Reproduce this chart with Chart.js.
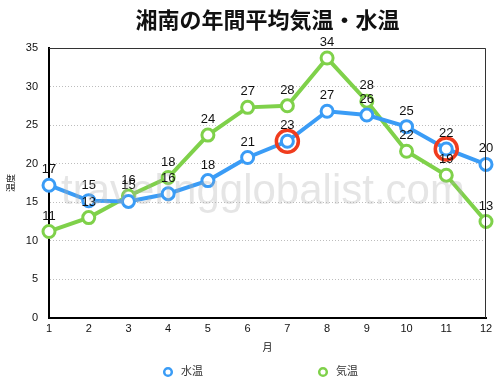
<!DOCTYPE html>
<html><head><meta charset="utf-8">
<script src="https://cdn.jsdelivr.net/npm/chart.js@4"></script>
<style>html,body{margin:0;padding:0;background:#fff}#wrap{width:504px;height:384px}</style>
</head><body><div id="wrap"><canvas id="c" width="504" height="384"></canvas></div>
<script>
const months = ['1','2','3','4','5','6','7','8','9','10','11','12'];
const waterTemp = [17.2, 15.2, 15.1, 16.1, 17.8, 20.8, 22.9, 26.8, 26.3, 24.8, 21.9, 19.9];
const airTemp = [11.2, 13.0, 15.8, 18.2, 23.7, 27.3, 27.5, 33.7, 28.1, 21.6, 18.5, 12.5];
const highlightMonths = ['7', '11'];
const titleText = '湘南の年間平均気温・水温';
const watermark = 'travelingglobalist.com';
const FONT = "Helvetica, 'Liberation Sans', Arial, 'Noto Sans CJK JP', sans-serif";

const highlight = months.map((m, i) => highlightMonths.includes(m) ? waterTemp[i] : null);

const decorPlugin = {
  id: 'decor',
  afterDatasetsDraw(chart) {
    const {ctx, chartArea: a} = chart;
    ctx.save();
    // top/right frame
    ctx.strokeStyle = '#333';
    ctx.lineWidth = 1;
    ctx.beginPath();
    ctx.moveTo(a.left, a.top + 0.5);
    ctx.lineTo(a.right - 0.5, a.top + 0.5);
    ctx.lineTo(a.right - 0.5, a.bottom);
    ctx.stroke();
    // data labels
    ctx.font = '13px ' + FONT;
    ctx.fillStyle = '#111';
    ctx.textAlign = 'center';
    ctx.textBaseline = 'bottom';
    [1, 0].forEach(di => {
      const meta = chart.getDatasetMeta(di);
      const data = chart.data.datasets[di].data;
      meta.data.forEach((pt, i) => {
        ctx.fillText(String(Math.round(data[i])), pt.x, pt.y - 9);
      });
    });
    // watermark
    ctx.font = '42px ' + FONT;
    ctx.fillStyle = 'rgba(175,175,175,0.33)';
    ctx.textAlign = 'center';
    ctx.textBaseline = 'alphabetic';
    ctx.fillText(watermark, 263, 204);
    // title
    ctx.font = 'bold 22px ' + FONT;
    ctx.fillStyle = '#111';
    ctx.textBaseline = 'middle';
    ctx.fillText(titleText, (a.left + a.right) / 2, 22);
    // legend
    const items = chart.data.datasets.slice(0, 2);
    const lx = [168, 323];
    ctx.font = '11px ' + FONT;
    ctx.textAlign = 'left';
    items.forEach((ds, i) => {
      ctx.beginPath();
      ctx.arc(lx[i], 372, 3.8, 0, Math.PI * 2);
      ctx.fillStyle = '#fff';
      ctx.fill();
      ctx.lineWidth = 2.5;
      ctx.strokeStyle = ds.borderColor;
      ctx.stroke();
      ctx.fillStyle = '#333';
      ctx.fillText(ds.label, lx[i] + 13, 372);
    });
    ctx.restore();
  }
};

new Chart(document.getElementById('c'), {
  type: 'line',
  data: {
    labels: months,
    datasets: [
      {label: '水温', data: waterTemp, borderColor: '#3a9cf6', backgroundColor: '#fff',
       borderWidth: 4, pointRadius: 6, pointBorderWidth: 3, pointBackgroundColor: '#fff',
       pointBorderColor: '#3a9cf6', tension: 0, clip: false, order: 1},
      {label: '気温', data: airTemp, borderColor: '#7fd14a', backgroundColor: '#fff',
       borderWidth: 4, pointRadius: 6, pointBorderWidth: 3, pointBackgroundColor: '#fff',
       pointBorderColor: '#7fd14a', tension: 0, clip: false, order: 2},
      {label: 'hl', data: highlight, showLine: false, borderColor: '#f03c1e',
       pointRadius: 11, pointBorderWidth: 3.5, pointBackgroundColor: 'rgba(0,0,0,0)',
       pointBorderColor: '#f03c1e', clip: false, order: 0}
    ]
  },
  options: {
    responsive: false,
    animation: false,
    layout: {padding: {left: 0, right: 18, top: 48, bottom: 30}},
    plugins: {
      title: {display: false},
      legend: {display: false},
      tooltip: {enabled: false}
    },
    scales: {
      x: {
        grid: {display: false, drawTicks: false},
        border: {display: true, color: '#000', width: 2},
        ticks: {color: '#111', font: {family: FONT, size: 11}, padding: 5, maxRotation: 0},
        title: {display: true, text: '月', color: '#111', font: {family: FONT, size: 10}, padding: {top: 1, bottom: 0}}
      },
      y: {
        min: 0, max: 35,
        afterFit(scale) { scale.width = 49; },
        grid: {color: '#bdbdbd', drawTicks: false, lineWidth: 1},
        border: {display: true, color: '#000', width: 2, dash: [1, 2]},
        ticks: {stepSize: 5, color: '#111', font: {family: FONT, size: 11}, padding: 11},
        title: {display: true, text: '温度', color: '#111', font: {family: FONT, size: 9}, padding: {top: 6, bottom: 0}}
      }
    }
  },
  plugins: [decorPlugin]
});
</script></body></html>
